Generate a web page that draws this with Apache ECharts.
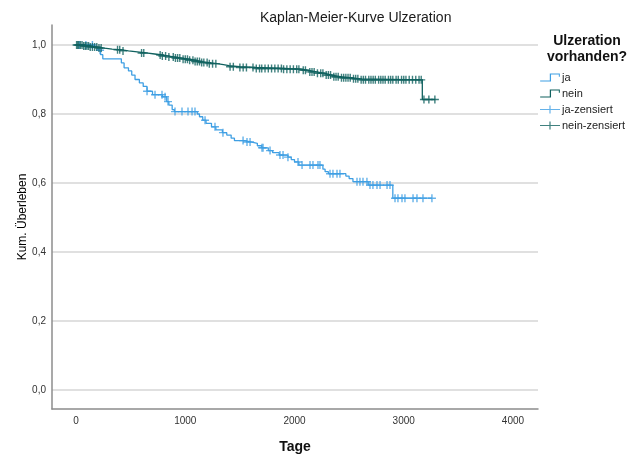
<!DOCTYPE html>
<html>
<head>
<meta charset="utf-8">
<script src="https://cdn.jsdelivr.net/npm/echarts@6/dist/echarts.min.js"></script>
<style>html,body{margin:0;padding:0;background:#fff}#c{width:628px;height:456px}</style>
</head>
<body>
<div id="c"></div>
<script>
// ---- data ----
var xTicks = [0, 1000, 2000, 3000, 4000];
var yTicks = [0, 0.2, 0.4, 0.6, 0.8, 1.0];

// "ja" (ulceration present): step times (days) and survival after each step
var jaTimes = [0,160,200,225,245,415,440,480,510,540,580,615,650,700,790,830,850,880,900,1110,1130,1160,1190,1240,1280,1340,1380,1420,1450,1540,1600,1660,1700,1760,1800,1860,1940,1970,2000,2040,2260,2280,2310,2470,2500,2535,2675,2900,3260];
var jaSurv  = [1.0,0.994,0.985,0.972,0.960,0.948,0.934,0.925,0.913,0.900,0.890,0.880,0.866,0.856,0.850,0.836,0.826,0.813,0.807,0.800,0.792,0.782,0.773,0.763,0.754,0.746,0.739,0.730,0.723,0.719,0.715,0.708,0.702,0.694,0.688,0.681,0.675,0.668,0.661,0.652,0.640,0.633,0.627,0.620,0.613,0.604,0.594,0.556,0.556];
var jaCensored = [30,90,150,220,650,723,787,815,842,906,970,1025,1062,1089,1181,1272,1345,1529,1565,1593,1702,1712,1776,1867,1895,1940,2032,2069,2142,2169,2215,2233,2325,2352,2389,2416,2572,2599,2627,2663,2691,2718,2755,2783,2847,2874,2920,2947,2984,3011,3085,3121,3176,3258];

// "nein" (no ulceration)
var neinTimes = [0,60,130,200,260,330,420,480,560,640,720,790,850,910,970,1030,1090,1150,1220,1290,1350,1400,1500,1640,1900,2060,2120,2200,2280,2340,2420,2530,2600,3170,3290];
var neinSurv  = [1.0,0.997,0.994,0.991,0.988,0.986,0.983,0.980,0.977,0.974,0.971,0.968,0.965,0.962,0.959,0.956,0.952,0.949,0.946,0.943,0.940,0.937,0.935,0.932,0.930,0.927,0.922,0.918,0.913,0.908,0.905,0.902,0.899,0.842,0.842];
var neinCensored = [5,15,25,40,55,70,85,100,115,130,150,170,190,210,230,380,400,430,600,620,770,790,820,850,890,910,930,950,980,1000,1020,1040,1070,1090,1110,1130,1150,1170,1200,1220,1250,1280,1410,1440,1500,1530,1560,1620,1650,1680,1700,1730,1760,1790,1820,1850,1880,1900,1930,1960,1990,2020,2040,2080,2100,2140,2160,2180,2210,2240,2260,2290,2310,2330,2360,2380,2400,2430,2450,2470,2490,2510,2540,2560,2580,2610,2630,2650,2680,2700,2720,2740,2770,2790,2810,2830,2860,2880,2900,2930,2950,2980,3000,3020,3050,3080,3110,3140,3160,3185,3230,3285];

var legendNames = ['ja', 'nein', 'ja-zensiert', 'nein-zensiert'];

// ---- helpers ----
var BLUE = '#3f9fe3', TEAL = '#10615f';
var FONT = '"Liberation Sans", Arial, sans-serif';
function zip(a, b) { return a.map(function (v, i) { return [v, b[i]]; }); }
function survAt(times, surv, t) {
  var s = surv[0];
  for (var i = 0; i < times.length; i++) if (times[i] <= t) s = surv[i];
  return s;
}
function censorPts(c, times, surv) { return c.map(function (t) { return [t, survAt(times, surv, t)]; }); }

var CROSS = 'path://M3.3,0H4.7V8H3.3Z M0,3.3H8V4.7H0Z';
var STEP_ICON = 'path://M0,6.8H9.4V0H19.2V3.2H18.2V1H10.6V7.8H0Z';
var CENS_ICON = 'path://M0,3.5H20V4.5H0Z M9.4,0H10.6V8H9.4Z';

var chart = echarts.init(document.getElementById('c'), null, { renderer: 'canvas' });
chart.setOption({
  animation: false,
  backgroundColor: '#fff',
  textStyle: { fontFamily: FONT },
  title: {
    text: 'Kaplan-Meier-Kurve Ulzeration',
    left: 255, top: 6,
    textStyle: { fontSize: 14, fontWeight: 'normal', color: '#1a1a1a', fontFamily: FONT }
  },
  graphic: [{
    type: 'text', x: 587, y: 33,
    style: { text: 'Ulzeration\nvorhanden?', font: 'bold 14px ' + FONT, fill: '#111', align: 'center', lineHeight: 16 }
  }],
  legend: {
    orient: 'vertical', left: 540, top: 72, padding: 0,
    itemWidth: 20, itemHeight: 8, itemGap: 5,
    textStyle: { fontSize: 11, color: '#222', fontFamily: FONT, padding: [0, 0, 0, -3] },
    data: [
      { name: legendNames[0], icon: STEP_ICON },
      { name: legendNames[1], icon: STEP_ICON },
      { name: legendNames[2], icon: CENS_ICON },
      { name: legendNames[3], icon: CENS_ICON }
    ]
  },
  grid: { left: 52, right: 90, top: 25, bottom: 47, outerBoundsMode: 'none', containLabel: false },
  xAxis: {
    type: 'value', min: -220, max: 4229,
    name: 'Tage', nameLocation: 'middle', nameGap: 31, nameMoveOverlap: false,
    nameTextStyle: { fontSize: 14, fontWeight: 'bold', color: '#111', fontFamily: FONT },
    axisLine: { show: true, onZero: false, lineStyle: { color: '#8c8c8c', width: 1.5 } },
    axisTick: { show: false, customValues: xTicks },
    axisLabel: { customValues: xTicks, fontSize: 10, color: '#333', margin: 7, fontFamily: FONT,
      formatter: function (v) { return String(v); } },
    splitLine: { show: false }
  },
  yAxis: {
    type: 'value', min: -0.055, max: 1.058,
    name: 'Kum. Überleben', nameLocation: 'middle', nameGap: 23, nameRotate: 90, nameMoveOverlap: false,
    nameTextStyle: { fontSize: 12, color: '#000', fontFamily: FONT },
    axisLine: { show: true, onZero: false, lineStyle: { color: '#8c8c8c', width: 1.5 } },
    axisTick: { show: false, customValues: yTicks },
    axisLabel: {
      customValues: yTicks, fontSize: 10, color: '#333', margin: 6, fontFamily: FONT,
      formatter: function (v) { return v.toFixed(1).replace('.', ','); }
    },
    splitLine: { show: true, lineStyle: { color: '#d6d6d6', width: 1.5 } }
  },
  series: [
    {
      name: 'ja', type: 'line', step: 'end', showSymbol: false, color: BLUE,
      lineStyle: { color: BLUE, width: 1.3 }, data: zip(jaTimes, jaSurv), z: 2
    },
    {
      name: 'ja-zensiert', type: 'scatter', symbol: CROSS, symbolSize: 8, color: BLUE,
      itemStyle: { color: BLUE }, data: censorPts(jaCensored, jaTimes, jaSurv), z: 3
    },
    {
      name: 'nein', type: 'line', step: 'end', showSymbol: false, color: TEAL,
      lineStyle: { color: TEAL, width: 1.3 }, data: zip(neinTimes, neinSurv), z: 4
    },
    {
      name: 'nein-zensiert', type: 'scatter', symbol: CROSS, symbolSize: 8, color: TEAL,
      itemStyle: { color: TEAL }, data: censorPts(neinCensored, neinTimes, neinSurv), z: 5
    }
  ]
});
</script>
</body>
</html>
